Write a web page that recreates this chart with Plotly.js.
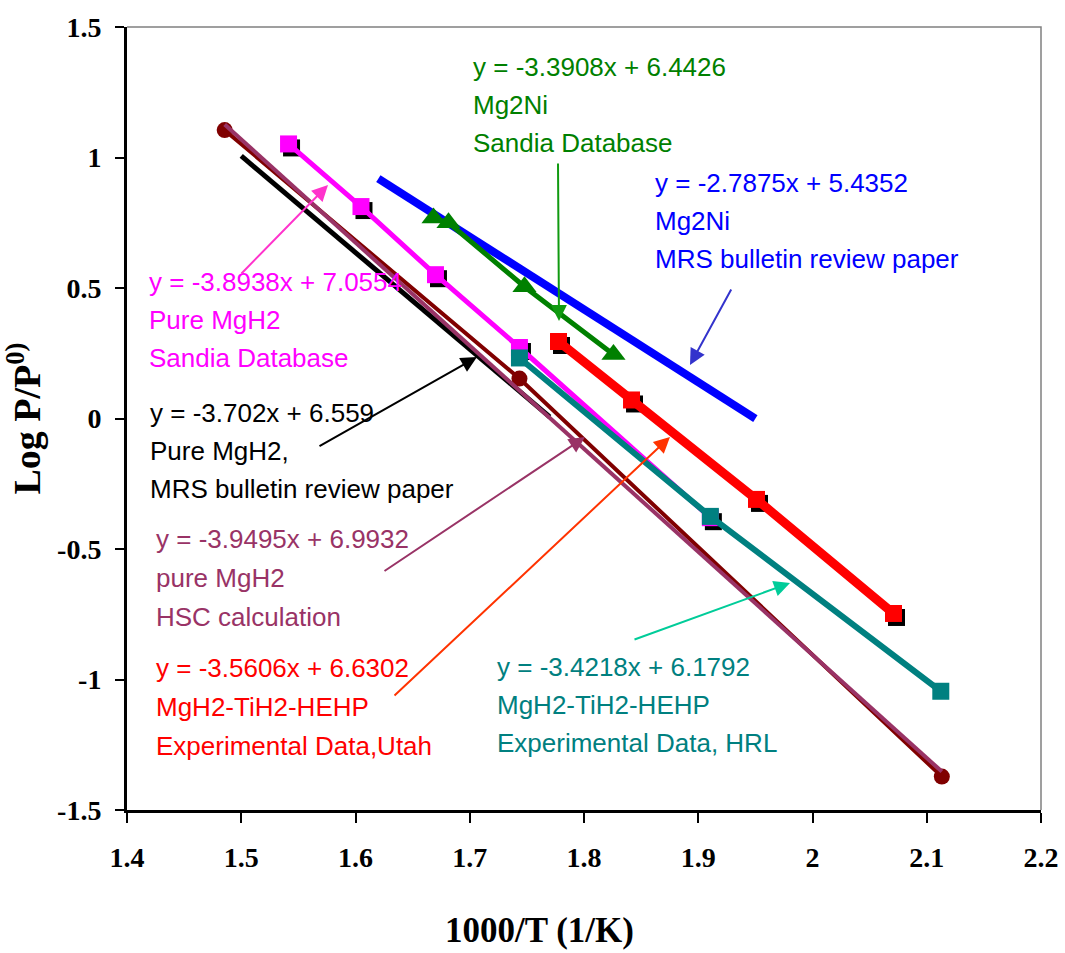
<!DOCTYPE html>
<html>
<head>
<meta charset="utf-8">
<script src="https://cdn.plot.ly/plotly-3.0.1.min.js"></script>
<style>
  html, body { margin: 0; padding: 0; background: #ffffff; }
  #chart { width: 1065px; height: 953px; }
</style>
</head>
<body>
<div id="chart"></div>
<script>
// Van't Hoff plot: log of equilibrium pressure vs. inverse temperature

// Pure MgH2, Sandia database
const sandiaMgH2X = [1.5414, 1.6048, 1.6700, 1.7435, 1.9106];
const sandiaMgH2Y = [1.052, 0.812, 0.551, 0.272, -0.380];

// MgH2-TiH2-HEHP, experimental data (Utah)
const utahX = [1.7777, 1.8416, 1.9510, 2.0709];
const utahY = [0.295, 0.071, -0.310, -0.747];

// MgH2-TiH2-HEHP, experimental data (HRL)
const hrlX = [1.7435, 1.9106, 2.1123];
const hrlY = [0.232, -0.375, -1.045];

// Pure MgH2, HSC calculation
const hscX = [1.4855, 1.7435, 2.1132];
const hscY = [1.105, 0.153, -1.372];

// Mg2Ni, Sandia database
const sandiaMg2NiX = [1.6683, 1.6814, 1.7479, 1.8258];
const sandiaMg2NiY = [0.768, 0.750, 0.505, 0.245];

// Linear fits: slope, intercept and the x span each line covers
const mrsMgH2Fit  = { slope: -3.702,  intercept: 6.559,  xFrom: 1.500,  xTo: 1.770 };
const mrsMg2NiFit = { slope: -2.7875, intercept: 5.4352, xFrom: 1.620,  xTo: 1.950 };
const hscFit      = { slope: -3.9495, intercept: 6.9932, xFrom: 1.4855, xTo: 2.1132 };

// Axis ticks
const xTickVals = [1.4, 1.5, 1.6, 1.7, 1.8, 1.9, 2.0, 2.1, 2.2];
const xTickText = ['1.4', '1.5', '1.6', '1.7', '1.8', '1.9', '2', '2.1', '2.2'];
const yTickVals = [1.5, 1, 0.5, 0, -0.5, -1, -1.5];
const yTickText = ['1.5', '1', '0.5', '0', '-0.5', '-1', '-1.5'];

function fitLine(f) {
  const xs = [f.xFrom, f.xTo];
  return { x: xs, y: xs.map(v => f.slope * v + f.intercept) };
}

const X_RANGE = [1.4, 2.2];
const Y_RANGE = [-1.5, 1.5];
const PLOT_W = 914, PLOT_H = 783;
const SHADOW_DX = 3, SHADOW_DY = 4;
const dxData = SHADOW_DX * (X_RANGE[1] - X_RANGE[0]) / PLOT_W;
const dyData = SHADOW_DY * (Y_RANGE[1] - Y_RANGE[0]) / PLOT_H;

const mrsMgH2 = fitLine(mrsMgH2Fit);
const mrsMg2Ni = fitLine(mrsMg2NiFit);
const hscLine = fitLine(hscFit);

const traces = [
  // base layer
  { x: mrsMgH2.x, y: mrsMgH2.y, mode: 'lines', line: { color: '#000000', width: 5 } },
  { x: hscX, y: hscY, mode: 'lines+markers', line: { color: '#800000', width: 4 },
    marker: { symbol: 'circle', size: 16, color: '#800000' } },
  { x: hscLine.x, y: hscLine.y, mode: 'lines', line: { color: '#993366', width: 4 } },
  { x: mrsMg2Ni.x, y: mrsMg2Ni.y, mode: 'lines', line: { color: '#0000FF', width: 8 } },
  { x: sandiaMg2NiX, y: sandiaMg2NiY, mode: 'lines+markers', line: { color: '#008000', width: 5 },
    marker: { symbol: 'triangle-up', size: 21, color: '#008000' } },

  // drop shadows under the square markers
  { x: sandiaMgH2X, y: sandiaMgH2Y, mode: 'markers', xaxis: 'x2', yaxis: 'y2',
    marker: { symbol: 'square', size: 17, color: '#000000' } },
  { x: utahX, y: utahY, mode: 'markers', xaxis: 'x2', yaxis: 'y2',
    marker: { symbol: 'square', size: 17, color: '#000000' } },

  // top layer
  { x: sandiaMgH2X, y: sandiaMgH2Y, mode: 'lines+markers', xaxis: 'x3', yaxis: 'y3',
    line: { color: '#FF00FF', width: 5 }, marker: { symbol: 'square', size: 17, color: '#FF00FF' } },
  { x: utahX, y: utahY, mode: 'lines+markers', xaxis: 'x3', yaxis: 'y3',
    line: { color: '#FF0000', width: 9 }, marker: { symbol: 'square', size: 17, color: '#FF0000' } },
  { x: hrlX, y: hrlY, mode: 'lines+markers', xaxis: 'x3', yaxis: 'y3',
    line: { color: '#008080', width: 6 }, marker: { symbol: 'square', size: 17, color: '#008080' } }
];
traces.forEach(t => { t.showlegend = false; t.hoverinfo = 'skip'; t.cliponaxis = false; });

// pixel position inside the page -> paper coordinates
const L = 127, T = 27;
const px = v => (v - L) / PLOT_W;
const py = v => (T + PLOT_H - v) / PLOT_H;

const labelFont = 'Liberation Sans, Arial, sans-serif';
const serif = 'Liberation Serif, Times New Roman, serif';

const labelBlocks = [
  { color: '#008000', x: 471, y: [67, 105, 143],
    lines: ['y = -3.3908x + 6.4426', 'Mg2Ni', 'Sandia Database'] },
  { color: '#0000FF', x: 653, y: [183, 221, 259],
    lines: ['y = -2.7875x + 5.4352', 'Mg2Ni', 'MRS bulletin review paper'] },
  { color: '#FF00FF', x: 147, y: [282, 320, 358],
    lines: ['y = -3.8938x + 7.0554', 'Pure MgH2', 'Sandia Database'] },
  { color: '#000000', x: 148, y: [413, 451, 489],
    lines: ['y = -3.702x + 6.559', 'Pure MgH2,', 'MRS bulletin review paper'] },
  { color: '#993366', x: 154, y: [539, 578, 617],
    lines: ['y = -3.9495x + 6.9932', 'pure MgH2', 'HSC calculation'] },
  { color: '#FF0000', x: 154, y: [668, 707, 746],
    lines: ['y = -3.5606x + 6.6302', 'MgH2-TiH2-HEHP', 'Experimental Data,Utah'] },
  { color: '#008080', x: 495, y: [667, 705, 743],
    lines: ['y = -3.4218x + 6.1792', 'MgH2-TiH2-HEHP', 'Experimental Data, HRL'] }
];

const annotations = [];
labelBlocks.forEach(b => {
  b.lines.forEach((txt, i) => {
    annotations.push({
      xref: 'paper', yref: 'paper', x: px(b.x), y: py(b.y[i]),
      xanchor: 'left', yanchor: 'middle', showarrow: false, text: txt,
      font: { family: labelFont, size: 26, color: b.color }
    });
  });
});

// x-axis title, set a little left of the plot centre
annotations.push({
  xref: 'paper', yref: 'paper', x: px(539), y: py(930),
  xanchor: 'center', yanchor: 'middle', showarrow: false, borderpad: 0,
  text: '1000/T (1/K)',
  font: { family: serif, size: 35, color: '#000000', weight: 'bold' }
});

// leader arrows: tail -> head, in page pixels
const arrows = [
  { color: '#109A10', tail: [558, 162], head: [559, 321] },
  { color: '#3333CC', tail: [732, 288], head: [690, 365] },
  { color: '#FF33CC', tail: [240, 275], head: [328, 185] },
  { color: '#000000', tail: [318, 447], head: [477, 357] },
  { color: '#993366', tail: [383, 572], head: [585, 437] },
  { color: '#FF3300', tail: [393, 697], head: [670, 437] },
  { color: '#00CC99', tail: [633, 640], head: [790, 583] }
];
arrows.forEach(a => {
  annotations.push({
    xref: 'paper', yref: 'paper', x: px(a.head[0]), y: py(a.head[1]),
    ax: a.tail[0] - a.head[0], ay: a.tail[1] - a.head[1],
    axref: 'pixel', ayref: 'pixel',
    text: '', showarrow: true, arrowhead: 2, arrowsize: 1.6, arrowwidth: 2,
    arrowcolor: a.color, standoff: 0, startstandoff: 0
  });
});

const tickFont = { family: serif, size: 28, color: '#000000', weight: 'bold' };

const layout = {
  width: 1065, height: 953,
  margin: { l: L, r: 1065 - L - PLOT_W, t: T, b: 953 - T - PLOT_H, pad: 0 },
  paper_bgcolor: '#ffffff', plot_bgcolor: '#ffffff',
  showlegend: false,
  xaxis: {
    range: X_RANGE, tickvals: xTickVals, ticktext: xTickText,
    ticks: 'outside', ticklen: 10, tickwidth: 2, tickcolor: '#000000', ticklabelstandoff: 10,
    showline: true, linewidth: 3, linecolor: '#000000',
    showgrid: false, zeroline: false, tickfont: tickFont, fixedrange: true
  },
  yaxis: {
    range: Y_RANGE, tickvals: yTickVals, ticktext: yTickText,
    ticks: 'outside', ticklen: 9, tickwidth: 2, tickcolor: '#000000', ticklabelstandoff: 8,
    showline: true, linewidth: 3, linecolor: '#000000',
    showgrid: false, zeroline: false, tickfont: tickFont, fixedrange: true,
    title: { text: 'Log P/P<sup>0)</sup>', standoff: 18,
      font: { family: serif, size: 38, color: '#000000', weight: 'bold' } }
  },
  xaxis2: { overlaying: 'x', range: [X_RANGE[0] - dxData, X_RANGE[1] - dxData], visible: false, fixedrange: true },
  yaxis2: { overlaying: 'y', range: [Y_RANGE[0] + dyData, Y_RANGE[1] + dyData], visible: false, fixedrange: true },
  xaxis3: { overlaying: 'x', range: X_RANGE, visible: false, fixedrange: true },
  yaxis3: { overlaying: 'y', range: Y_RANGE, visible: false, fixedrange: true },
  shapes: [
    { type: 'path', xref: 'paper', yref: 'paper', path: 'M 0 1 L 1 1 L 1 0',
      line: { color: '#808080', width: 1.5 }, layer: 'above' }
  ],
  annotations: annotations
};

Plotly.newPlot('chart', traces, layout, { staticPlot: true, displayModeBar: false });
</script>
</body>
</html>
